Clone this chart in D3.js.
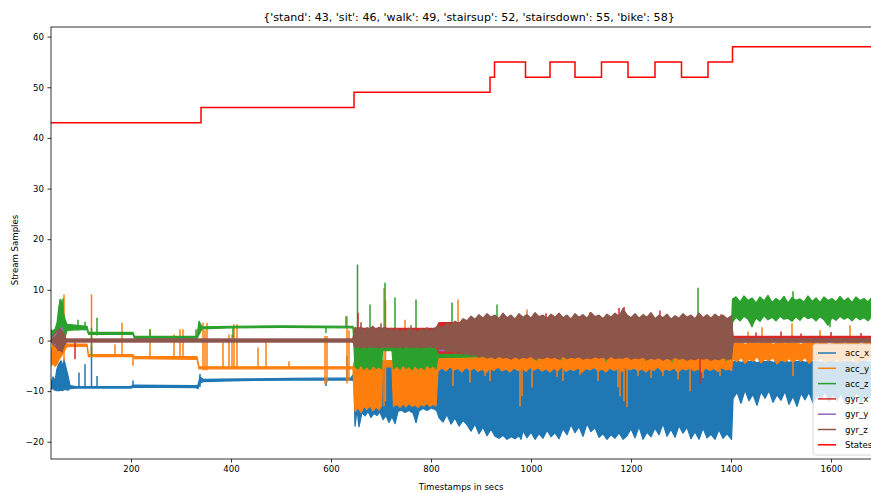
<!DOCTYPE html>
<html><head><meta charset="utf-8">
<script src="https://cdn.jsdelivr.net/npm/d3@7"></script>
<style>
body{margin:0;background:#fff}
svg{display:block}
text{font-family:"DejaVu Sans",sans-serif;fill:#000}
</style>
</head><body>
<svg id="chart" width="871" height="493"></svg>
<script>
// ---- labels ----
const titleText = "{'stand': 43, 'sit': 46, 'walk': 49, 'stairsup': 52, 'stairsdown': 55, 'bike': 58}";
const xLabel = "Timestamps in secs";
const yLabel = "Stream Samples";
const xTicks = [200, 400, 600, 800, 1000, 1200, 1400, 1600];
const yTicks = [-20, -10, 0, 10, 20, 30, 40, 50, 60];
const seriesNames = ["acc_x", "acc_y", "acc_z", "gyr_x", "gyr_y", "gyr_z", "States"];
const seriesColors = ["#1f77b4", "#ff7f0e", "#2ca02c", "#d62728", "#9467bd", "#8c564b", "#ff0000"];

// ---- activity state (step) ----
const stateTimes  = [40, 340, 646, 918, 927, 989, 1038, 1088, 1141, 1194, 1248, 1301, 1354, 1403, 1708];
const stateValues = [43, 46, 49, 52, 55, 52, 55, 52, 55, 52, 55, 52, 55, 58, 58];

// ---- sensor envelopes: [time, low, high] ----
const accX = [
 [40,-9.6,-8.4],[44,-9.5,-7.2],[48,-9.8,-8.0],[52,-9.9,-5.6],[56,-9.9,-4.6],[60,-9.8,-4.0],[63,-9.9,-5.2],[66,-9.7,-3.8],[70,-9.7,-5.4],[74,-9.8,-7.0],[78,-9.5,-8.9],
 [90,-9.4,-9.1],[200,-9.4,-9.1],[204,-9.2,-8.8],[330,-9.3,-8.9],[334,-9.5,-8.8],[338,-8.4,-7.2],[345,-8.1,-7.7],[420,-7.9,-7.6],[520,-7.8,-7.5],[640,-7.8,-7.4],
 [646,-8.0,-6.5],[648,-16.9,-5.0],[652,-13.5,-5.2],[656,-17.0,-5.0],[662,-14.2,-5.1],[668,-14.9,-5.3],[674,-14.0,-5.1],[680,-15.2,-5.0],[686,-14.4,-5.2],[692,-14.8,-5.0],[698,-14.1,-5.1],[704,-15.6,-5.0],[710,-14.8,-5.2],[716,-16.2,-5.0],[722,-15.0,-5.1],[728,-16.4,-5.0],[734,-14.0,-5.2],[740,-13.7,-5.0],[748,-14.2,-5.1],[756,-13.8,-5.0],[764,-14.3,-5.2],[770,-16.2,-5.0],[776,-13.9,-5.1],[784,-13.4,-5.0],[792,-13.8,-5.2],[800,-13.3,-5.0],[808,-13.6,-5.1],[812,-14.0,-5.0],
 [816,-15.2,-4.6],[824,-16.1,-4.8],[832,-14.6,-4.5],[840,-16.5,-4.7],[848,-15.3,-4.6],[856,-16.9,-4.8],[864,-15.8,-4.5],[872,-16.6,-4.7],[880,-17.9,-4.6],[888,-16.5,-4.8],[896,-18.4,-4.5],[904,-17.1,-4.7],[912,-18.8,-4.6],[920,-17.5,-4.8],[928,-18.9,-4.5],[936,-19.3,-4.7],[944,-18.7,-4.6],[952,-19.5,-4.8],[960,-19.0,-4.5],[968,-19.4,-4.7],[976,-18.8,-4.6],[980,-19.5,-4.8],[984,-17.8,-4.5],[992,-19.2,-4.7],[1000,-18.1,-4.6],[1008,-19.5,-4.8],[1016,-18.4,-4.5],[1024,-19.3,-4.7],[1032,-17.7,-4.6],[1040,-19.0,-4.8],[1048,-18.2,-4.5],[1056,-19.4,-4.7],[1064,-17.4,-4.6],[1072,-18.6,-4.8],[1080,-16.6,-4.5],[1088,-18.2,-4.7],[1096,-17.0,-4.6],[1104,-18.9,-4.8],[1112,-16.4,-4.5],[1120,-18.0,-4.7],[1128,-17.2,-4.6],[1136,-19.1,-4.8],[1144,-18.4,-4.5],[1152,-19.5,-4.7],[1160,-18.6,-4.6],[1168,-19.3,-4.8],[1176,-18.2,-4.5],[1184,-19.5,-4.7],[1192,-18.8,-4.6],[1200,-17.4,-4.8],[1208,-19.2,-4.5],[1216,-17.0,-4.7],[1224,-19.5,-4.6],[1232,-18.1,-4.8],[1240,-19.0,-4.5],[1248,-17.3,-4.7],[1256,-18.6,-4.6],[1264,-16.4,-4.8],[1272,-18.9,-4.5],[1280,-17.5,-4.7],[1288,-19.1,-4.6],[1296,-16.8,-4.8],[1304,-18.3,-4.5],[1312,-17.1,-4.7],[1320,-19.4,-4.6],[1328,-18.0,-4.8],[1336,-19.5,-4.5],[1344,-17.3,-4.7],[1352,-19.2,-4.6],[1360,-18.5,-4.8],[1368,-19.5,-4.5],[1376,-17.6,-4.7],[1384,-19.3,-4.6],[1392,-18.4,-4.8],[1401,-19.5,-4.5],
 [1404,-11.5,-4.2],[1412,-10.2,-4.0],[1420,-12.4,-4.3],[1428,-9.8,-4.1],[1436,-11.9,-4.2],[1444,-10.6,-4.0],[1452,-12.8,-4.4],[1460,-10.1,-4.1],[1468,-11.4,-4.2],[1476,-9.9,-4.0],[1484,-12.2,-4.3],[1492,-10.7,-4.1],[1500,-11.8,-4.2],[1508,-10.0,-4.0],[1516,-12.6,-4.3],[1524,-11.0,-4.1],[1532,-13.0,-4.2],[1540,-10.4,-4.0],[1548,-11.7,-4.3],[1556,-10.2,-4.1],[1564,-12.3,-4.2],[1572,-10.8,-4.0],[1580,-11.5,-4.3],[1588,-10.1,-4.1],[1596,-12.0,-4.2],[1604,-10.6,-4.0],[1612,-11.9,-4.3],[1620,-10.3,-4.1],[1628,-12.4,-4.2],[1636,-10.9,-4.0],[1644,-11.6,-4.3],[1652,-10.2,-4.1],[1660,-12.1,-4.2],[1668,-10.7,-4.0],[1676,-11.4,-4.3],[1684,-10.5,-4.1],[1692,-12.0,-4.2],[1700,-10.8,-4.0],[1708,-11.3,-4.3]
];
const accXSpikes = [[96,-9.3,-6.3],[108,-9.3,-4.7],[121,-9.3,-1.2],[132,-9.3,-7.0],[204,-9.4,-7.9],[338,-9.2,-6.6],[590,-9.0,-7.5],[632,-8.0,-3.1]];

const accY = [
 [40,-4.9,-2.6],[44,-4.6,-0.5],[48,-5.1,-1.6],[52,-4.7,-0.6],[56,-3.8,0.4],[60,-3.2,2.6],[64,-2.5,1.2],[68,-1.8,0.2],[72,-1.2,-0.7],[112,-1.1,-0.7],[115,-3.2,-2.8],[204,-3.2,-2.8],[207,-3.6,-3.2],[332,-3.7,-3.2],[336,-5.6,-5.2],[644,-5.6,-5.2],
 [648,-14.0,-3.6],[654,-13.2,-4.2],[660,-14.2,-4.4],[666,-13.0,-4.6],[672,-13.6,-4.3],[678,-12.8,-4.5],[684,-13.9,-4.4],[690,-13.1,-4.6],[696,-13.7,-4.5],[701,-12.9,-4.4],[703,-5.2,-4.0],[722,-5.2,-4.0],[725,-13.0,-5.0],[732,-12.6,-5.2],[738,-13.2,-5.0],[744,-12.5,-5.1],[750,-13.1,-5.0],[756,-12.4,-5.2],[762,-13.0,-5.0],[768,-12.7,-5.1],[774,-13.2,-5.0],[780,-12.6,-5.2],[786,-12.9,-5.0],[792,-12.4,-5.1],[798,-13.0,-5.0],[804,-12.6,-5.2],[810,-12.9,-5.0],[814,-6.0,-2.8],
 [822,-5.4,-2.7],[830,-6.0,-3.0],[838,-5.2,-2.6],[846,-5.8,-3.1],[854,-5.5,-2.8],[862,-6.2,-3.0],[870,-5.3,-2.7],[878,-5.9,-3.2],[886,-5.4,-2.9],[894,-6.1,-3.0],[902,-5.6,-2.7],[910,-6.3,-3.1],[918,-5.5,-2.8],[926,-5.9,-3.0],[934,-5.2,-2.7],[942,-6.0,-3.2],[950,-5.6,-2.9],[958,-6.2,-3.0],[966,-5.4,-2.8],[974,-5.9,-3.1],[982,-5.5,-2.7],[990,-6.1,-3.0],[998,-5.3,-2.9],[1006,-5.8,-3.2],[1014,-5.4,-2.8],[1022,-6.0,-3.0],[1030,-5.6,-2.7],[1038,-6.2,-3.1],[1046,-5.5,-2.9],[1054,-5.9,-3.0],[1062,-5.2,-2.8],[1070,-6.1,-3.2],[1078,-5.6,-2.7],[1086,-5.9,-3.0],[1094,-5.4,-2.9],[1102,-6.3,-3.1],[1110,-5.5,-2.8],[1118,-5.8,-3.0],[1126,-5.3,-2.7],[1134,-6.0,-3.2],[1142,-5.6,-2.9],[1150,-6.2,-3.0],[1158,-5.4,-2.8],[1166,-5.9,-3.1],[1174,-5.5,-2.7],[1182,-6.1,-3.0],[1190,-5.3,-2.9],[1198,-5.8,-3.2],[1206,-5.4,-2.8],[1214,-6.0,-3.0],[1222,-5.6,-2.7],[1230,-6.2,-3.1],[1238,-5.5,-2.9],[1246,-5.9,-3.0],[1254,-5.2,-2.8],[1262,-6.1,-3.2],[1270,-5.6,-2.7],[1278,-5.9,-3.0],[1286,-5.4,-2.9],[1294,-6.3,-3.1],[1302,-5.5,-2.8],[1310,-5.8,-3.0],[1318,-5.3,-2.7],[1326,-6.0,-3.2],[1334,-5.6,-2.9],[1342,-6.2,-3.0],[1350,-5.4,-2.8],[1358,-5.9,-3.1],[1366,-5.5,-2.7],[1374,-6.1,-3.0],[1382,-5.3,-2.9],[1390,-5.8,-3.2],[1398,-5.6,-2.9],[1401,-6.0,-3.0],
 [1404,-3.6,-0.4],[1412,-4.2,-0.6],[1420,-3.3,-0.3],[1428,-4.5,-0.8],[1436,-3.7,-0.5],[1444,-4.1,-0.2],[1452,-3.2,-0.7],[1460,-4.4,-0.4],[1468,-3.6,-0.6],[1476,-4.0,-0.3],[1484,-3.4,-0.8],[1492,-4.6,-0.5],[1500,-3.8,-0.4],[1508,-4.2,-0.7],[1516,-3.5,-0.3],[1524,-4.3,-0.6],[1532,-3.6,-0.5],[1540,-4.1,-0.8],[1548,-3.3,-0.4],[1556,-4.5,-0.6],[1564,-3.7,-0.3],[1572,-4.0,-0.7],[1580,-3.4,-0.5],[1588,-4.4,-0.4],[1596,-3.8,-0.8],[1604,-4.2,-0.6],[1612,-3.5,-0.3],[1620,-4.3,-0.5],[1628,-3.6,-0.7],[1636,-4.1,-0.4],[1644,-3.3,-0.6],[1652,-4.5,-0.3],[1660,-3.7,-0.8],[1668,-4.0,-0.5],[1676,-3.4,-0.4],[1684,-4.4,-0.6],[1692,-3.8,-0.3],[1700,-4.2,-0.7],[1708,-3.6,-0.5]
];
const accYSpikes = [
 [66,-4.0,9.1],[121,-3.0,9.1],[168,-3.0,-0.8],[182,-3.0,3.5],[204,-5.0,-3.0],[238,-3.5,2.2],[286,-3.5,1.2],[298,-3.5,2.2],[304,-3.5,2.2],
 [344,-5.9,3.5],[348,-5.9,2.0],[352,-5.9,3.5],[384,-5.5,-0.4],[396,-5.5,1.2],[402,-5.5,1.2],[406,-5.5,3.2],[412,-5.5,3.2],[454,-5.5,-1.4],[470,-5.5,0.2],[516,-5.5,-4.1],[588,-8.7,0.9],[592,-8.3,0.9],[632,-8.5,4.8],[636,-8.0,2.0],
 [706,-13.0,10.4],[709,-12.0,8.0],[748,-12.0,4.1],[854,-5.0,8.1],[992,-5.0,6.1],
 [844,-9.0,-4],[878,-8.3,-4],[908,-7.0,-4],[918,-8.0,-4],[978,-13.0,-4],[982,-11.0,-4],[1002,-9.3,-4],[1052,-7.2,-4],[1064,-8.0,-4],[1098,-6.8,-4],[1134,-8.0,-4],[1174,-9.3,-4],[1178,-11.0,-4],[1186,-12.0,-4],[1192,-13.2,-4],[1214,-7.0,-4],[1240,-7.4,-4],[1264,-7.0,-4],[1294,-7.7,-4],[1318,-10.0,-4],[1344,-7.4,-4],[1378,-7.0,-4],
 [1434,-2,1.8],[1462,-2,2.6],[1522,-2,3.4],[1524,-7,-2],[1578,-2,2.0],[1638,-2,3.0]
];

const accZ = [
 [40,0.6,2.1],[44,-0.8,1.9],[48,-1.0,2.2],[52,-0.6,3.4],[56,0.2,6.8],[59,0.8,8.1],[62,-0.4,7.6],[65,-1.0,5.4],[68,0.6,4.2],[72,2.0,3.2],[112,2.2,2.8],[115,1.2,1.6],[204,1.2,1.6],[207,0.4,0.8],[332,0.4,0.8],[336,1.2,3.8],[342,2.3,2.7],[400,2.5,2.8],[500,2.6,2.9],[644,2.5,2.8],
 [648,-5.2,1.0],[654,-5.6,0.8],[660,-4.8,1.2],[666,-5.7,0.6],[672,-5.1,1.0],[678,-5.8,0.7],[684,-4.9,1.1],[690,-5.5,0.5],[696,-5.2,0.9],[701,-5.6,0.8],[703,-2.0,1.0],[722,-2.0,1.0],[725,-5.6,0.8],[732,-5.0,1.1],[738,-5.7,0.6],[744,-4.8,1.0],[750,-5.5,0.7],[756,-5.1,1.2],[762,-5.8,0.5],[768,-4.9,0.9],[774,-5.6,1.0],[780,-5.2,0.6],[786,-5.7,0.8],[792,-4.8,1.1],[798,-5.4,0.7],[804,-5.0,1.0],[810,-5.6,0.8],[814,-3.4,1.6],
 [900,-3.2,2.2],[1000,-3.0,2.5],[1100,-3.2,2.3],[1200,-3.1,2.4],[1300,-3.2,2.2],[1401,-3.1,2.5],
 [1403,3.6,8.2],[1410,4.6,8.6],[1418,3.9,7.6],[1426,4.8,8.8],[1434,4.2,7.9],[1442,2.8,8.4],[1450,4.5,7.4],[1458,3.8,8.6],[1466,4.9,7.8],[1474,4.1,8.9],[1482,4.6,7.5],[1490,3.9,8.3],[1498,4.8,7.7],[1506,4.2,8.7],[1514,4.4,7.4],[1522,3.8,8.5],[1530,4.7,7.9],[1538,4.0,8.2],[1546,4.9,7.6],[1554,4.3,8.8],[1562,4.6,7.7],[1570,3.9,8.4],[1578,4.7,7.5],[1586,4.1,8.6],[1594,3.0,7.9],[1602,4.5,8.3],[1610,4.0,7.6],[1618,4.8,8.7],[1626,4.2,7.8],[1634,4.6,8.4],[1642,3.9,7.5],[1650,4.7,8.6],[1658,4.1,7.9],[1666,4.5,8.3],[1674,3.9,7.6],[1682,4.8,8.5],[1690,4.3,7.8],[1698,4.6,8.2],[1708,4.0,7.7]
];
const accZSpikes = [
 [58,-1,8.1],[64,-1,8.3],[94,2,4.1],[108,2,3.7],[121,-3,2.5],[132,1,4.5],[238,0.5,2.2],[330,0.5,2.2],[404,0.5,2.6],[590,1.5,2.6],[630,2.5,4.8],
 [653,-3,15],[678,-2,7.1],[708,-2,11.4],[728,-2,8.5],[770,-2,8.1],[842,-2,7.5],[932,-2,7.1],[1334,-2,10.4],
 [976,-3.8,0],[1012,-4.0,0],[1060,-3.9,0],[1150,-4.2,0],[1230,-4.0,0],[1282,-4.3,0],[1390,-4.1,0],
 [1442,2.6,5],[1524,5,9.7],[1598,2.6,5]
];

const gyrX = [[40,-0.2,0.2],[52,-1.5,1.8],[58,-2.0,2.2],[64,-1.2,1.6],[70,-0.2,0.2],[644,-0.2,0.2],[648,-1.2,2.4],[810,-1.2,2.4],[816,-2.5,3.5],[1401,-2.5,3.5],[1404,-0.2,0.8],[1708,-0.2,0.8]];
const gyrXSpikes = [[88,-3.7,0],[654,0,5.5],[880,2,4.6],[1030,2,5.4],[1118,2,5.6],[1176,2,6.4],[1186,2,6.6],[1258,2,5.9],[1338,-8.5,0],[1380,2,5.2],[1450,0,1.6],[1500,0,1.8],[1540,0,1.4],[1600,0,1.7],[1660,0,1.5]];

const gyrY = [[40,-0.2,0.2],[56,-1.6,2.0],[62,-0.8,2.6],[68,-0.2,0.2],[644,-0.2,0.2],[648,-1.1,1.0],[812,-1.1,1.0],[816,-2,2],[1401,-2,2],[1404,-0.2,0.2],[1708,-0.2,0.2]];
const gyrYSpikes = [];

const gyrZ = [
 [40,-0.25,0.25],[50,-0.6,0.7],[54,-2.0,1.5],[58,-1.6,2.3],[62,-2.3,1.9],[66,-1.1,1.3],[70,-0.25,0.25],[644,-0.25,0.25],
 [648,-1.3,2.6],[654,-1.0,2.2],[660,-1.4,2.7],[666,-1.1,2.0],[672,-1.5,2.5],[678,-1.0,2.3],[684,-1.3,2.8],[690,-1.2,2.1],[696,-1.5,2.6],[702,-1.1,2.2],[708,-1.4,2.7],[714,-1.0,2.0],[720,-1.3,2.4],[726,-1.2,1.8],[732,-1.4,2.3],[738,-1.1,1.6],[744,-1.5,2.1],[750,-1.0,1.7],[756,-1.3,2.4],[762,-1.2,1.8],[768,-1.4,2.2],[774,-1.1,1.6],[780,-1.5,2.3],[786,-1.2,1.9],[792,-1.3,2.5],[798,-1.0,1.8],[804,-1.4,2.2],[810,-1.2,2.6],
 [816,-1.8,2.9],[824,-1.6,2.5],[832,-2.2,3.4],[840,-1.9,3.0],[848,-2.5,3.8],[856,-2.1,3.3],[864,-2.8,4.3],[872,-2.4,3.9],[880,-3.0,4.8],[888,-2.7,4.2],[896,-3.3,5.1],[904,-3.0,4.4],[912,-3.5,5.3],[920,-3.2,4.6],[928,-3.6,5.0],[936,-3.1,4.3],[944,-3.5,5.4],[952,-3.3,4.5],[960,-3.7,5.0],[968,-3.2,4.2],[976,-3.6,5.3],[984,-3.3,4.6],[992,-3.5,5.1],[1000,-3.1,4.4],[1008,-3.7,5.5],[1016,-3.4,4.7],[1024,-3.6,5.0],[1032,-3.2,4.3],[1040,-3.5,5.2],[1048,-3.3,4.6],[1056,-3.7,5.4],[1064,-3.1,4.5],[1072,-3.6,5.0],[1080,-3.3,4.2],[1088,-3.5,5.3],[1096,-3.2,4.6],[1104,-3.7,5.1],[1112,-3.4,4.4],[1120,-3.6,5.5],[1128,-3.2,4.7],[1136,-3.5,5.0],[1144,-3.3,4.3],[1152,-3.7,5.2],[1160,-3.1,4.6],[1168,-3.6,5.4],[1176,-3.4,4.8],[1184,-3.5,6.3],[1192,-3.2,5.0],[1200,-3.7,4.5],[1208,-3.4,5.3],[1216,-3.6,4.4],[1224,-3.3,5.1],[1232,-3.8,4.6],[1240,-3.5,5.5],[1248,-3.7,4.3],[1256,-3.4,5.0],[1264,-3.9,4.5],[1272,-3.5,5.2],[1280,-3.8,4.2],[1288,-3.3,4.9],[1296,-3.7,4.4],[1304,-3.5,5.3],[1312,-3.9,4.6],[1320,-3.6,5.0],[1328,-3.8,4.3],[1336,-3.4,5.4],[1344,-3.7,4.5],[1352,-3.5,5.1],[1360,-3.9,4.4],[1368,-3.6,5.2],[1376,-3.8,4.6],[1384,-3.4,5.0],[1392,-3.7,4.3],[1401,-3.6,4.9],
 [1404,-0.3,0.3],[1708,-0.3,0.3]
];
const gyrZSpikes = [[660,0,3.6],[700,0,3.4],[760,0,3.0]];

const sensorEnvelopes = [accX, accY, accZ, gyrX, gyrY, gyrZ];
const sensorSpikes = [accXSpikes, accYSpikes, accZSpikes, gyrXSpikes, gyrYSpikes, gyrZSpikes];

// ---- layout ----
const svg = d3.select("#chart");
const plot = {left: 51, top: 27, right: 885, bottom: 459};

const x = d3.scaleLinear().domain([40, 1708]).range([plot.left, plot.right]);
const y = d3.scaleLinear().domain([-23.4, 61.9]).range([plot.bottom, plot.top]);

svg.append("defs").append("clipPath").attr("id", "plotClip")
  .append("rect").attr("x", plot.left).attr("y", plot.top)
  .attr("width", plot.right - plot.left).attr("height", plot.bottom - plot.top);

const g = svg.append("g").attr("clip-path", "url(#plotClip)");

// each sensor is drawn as the band between its low and high envelope
const area = d3.area().x(d => x(d[0])).y0(d => y(d[1])).y1(d => y(d[2]));

sensorEnvelopes.forEach((rows, i) => {
  const c = seriesColors[i];
  g.append("path").datum(rows).attr("d", area)
    .attr("fill", c).attr("stroke", c).attr("stroke-width", 1.3).attr("stroke-linejoin", "round");
  g.selectAll(null).data(sensorSpikes[i]).enter().append("line")
    .attr("x1", d => x(d[0])).attr("x2", d => x(d[0]))
    .attr("y1", d => y(d[1])).attr("y2", d => y(d[2]))
    .attr("stroke", c).attr("stroke-width", 1.5);
});

const stateLine = d3.line().curve(d3.curveStepAfter).x(d => x(d[0])).y(d => y(d[1]));
g.append("path").datum(stateTimes.map((t, i) => [t, stateValues[i]]))
  .attr("d", stateLine).attr("fill", "none").attr("stroke", seriesColors[6]).attr("stroke-width", 1.5);

// ---- axes ----
const minus = d => d < 0 ? "\u2212" + Math.abs(d) : String(d);
const xAxis = svg.append("g").attr("transform", `translate(0,${plot.bottom})`)
  .call(d3.axisBottom(x).tickValues(xTicks).tickSize(3.5).tickPadding(3.5).tickFormat(d => String(d)));
const yAxis = svg.append("g").attr("transform", `translate(${plot.left},0)`)
  .call(d3.axisLeft(y).tickValues(yTicks).tickSize(3.5).tickPadding(3.5).tickFormat(minus));
[xAxis, yAxis].forEach(a => {
  a.select(".domain").remove();
  a.selectAll(".tick line").attr("stroke", "#000").attr("stroke-width", 0.8);
  a.selectAll(".tick text").attr("font-family", "DejaVu Sans").attr("font-size", 8.6).attr("fill", "#000");
});

// frame
svg.append("rect").attr("x", plot.left).attr("y", plot.top)
  .attr("width", plot.right - plot.left).attr("height", plot.bottom - plot.top)
  .attr("fill", "none").attr("stroke", "#000").attr("stroke-width", 0.8);

// titles
svg.append("text").attr("x", 469).attr("y", 21).attr("text-anchor", "middle")
  .attr("font-size", 11.1).text(titleText);
svg.append("text").attr("x", 461).attr("y", 490).attr("text-anchor", "middle")
  .attr("font-size", 8.6).text(xLabel);
svg.append("text").attr("transform", "translate(18,250) rotate(-90)").attr("text-anchor", "middle")
  .attr("font-size", 8.6).text(yLabel);

// ---- legend ----
const leg = svg.append("g").attr("transform", "translate(813,344)");
leg.append("rect").attr("x", 0).attr("y", 0).attr("width", 80).attr("height", 111).attr("rx", 2.5)
  .attr("fill", "#fff").attr("fill-opacity", 0.8).attr("stroke", "#ccc").attr("stroke-width", 0.8);
seriesNames.forEach((name, i) => {
  const yy = 9 + i * 15.3;
  leg.append("line").attr("x1", 5).attr("x2", 23).attr("y1", yy).attr("y2", yy)
    .attr("stroke", seriesColors[i]).attr("stroke-width", 1.5);
  leg.append("text").attr("x", 32).attr("y", yy + 3.2).attr("font-size", 8.6).text(name);
});
</script>
</body></html>
